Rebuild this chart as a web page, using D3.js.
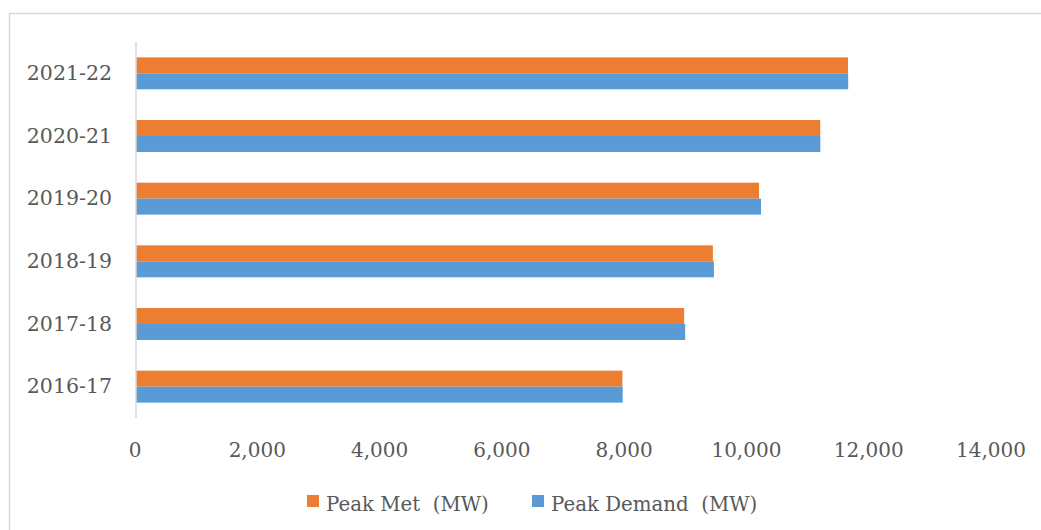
<!DOCTYPE html>
<html>
<head>
<meta charset="utf-8">
<script src="https://cdn.jsdelivr.net/npm/d3@7"></script>
<style>
  html, body { margin: 0; padding: 0; background: #fff; }
  svg text { font-family: "DejaVu Serif", "Liberation Serif", serif; fill: #595959; }
</style>
</head>
<body>
<svg id="chart" width="1041" height="530"></svg>
<script>
// Financial years, top to bottom
const years = ["2021-22", "2020-21", "2019-20", "2018-19", "2017-18", "2016-17"];
// Peak met (MW)
const peakMet = [11645, 11190, 10190, 9435, 8965, 7955];
// Peak demand (MW)
const peakDemand = [11648, 11192, 10222, 9452, 8982, 7960];
const xTicks = [0, 2000, 4000, 6000, 8000, 10000, 12000, 14000];
const seriesNames = ["Peak Met  (MW)", "Peak Demand  (MW)"];
const seriesColors = ["#ED7D31", "#5B9BD5"];

const svg = d3.select("#chart");

// Outer chart frame
svg.append("rect")
  .attr("x", 9.5).attr("y", 13.5)
  .attr("width", 1100).attr("height", 600)
  .attr("fill", "none").attr("stroke", "#D9D9D9").attr("stroke-width", 1.5);

const plot = { left: 136, right: 992, top: 42, bottom: 418 };

const x = d3.scaleLinear().domain([0, 14000]).range([plot.left, plot.right]);
const y = d3.scaleBand().domain(years).range([plot.top, plot.bottom]).paddingInner(0.49).paddingOuter(0.245);
const ySub = d3.scaleBand().domain([0, 1]).range([0, y.bandwidth()]);

const rows = years.map((yr, i) => ({ yr, vals: [peakMet[i], peakDemand[i]] }));

const groups = svg.append("g").selectAll("g").data(rows).join("g")
  .attr("transform", d => `translate(0,${y(d.yr)})`);

groups.selectAll("rect").data(d => d.vals.map((v, k) => ({ v, k }))).join("rect")
  .attr("x", x(0))
  .attr("y", d => ySub(d.k))
  .attr("width", d => x(d.v) - x(0))
  .attr("height", ySub.bandwidth())
  .attr("fill", d => seriesColors[d.k]);

// Category axis line
svg.append("line")
  .attr("x1", x(0)).attr("x2", x(0))
  .attr("y1", plot.top).attr("y2", plot.bottom)
  .attr("stroke", "#D9D9D9").attr("stroke-width", 1.5);

// Category labels
svg.append("g").selectAll("text").data(years).join("text")
  .attr("x", 112)
  .attr("y", d => y(d) + y.bandwidth() / 2 + 6.5)
  .attr("text-anchor", "end")
  .style("font-size", "20.5px")
  .text(d => d);

// Value axis labels
const fmt = d3.format(",");
svg.append("g").selectAll("text").data(xTicks).join("text")
  .attr("x", d => x(d) - 1)
  .attr("y", 457)
  .attr("text-anchor", "middle")
  .style("font-size", "20px")
  .text(d => fmt(d));

// Legend
const legendX = [307, 532];
const leg = svg.append("g").selectAll("g").data(seriesNames).join("g")
  .attr("transform", (d, i) => `translate(${legendX[i]},495)`);
leg.append("rect").attr("width", 12).attr("height", 12).attr("fill", (d, i) => seriesColors[i]);
leg.append("text")
  .attr("x", 19).attr("y", 16)
  .style("font-size", "19.8px")
  .style("white-space", "pre")
  .attr("xml:space", "preserve")
  .text(d => d);
</script>
</body>
</html>
